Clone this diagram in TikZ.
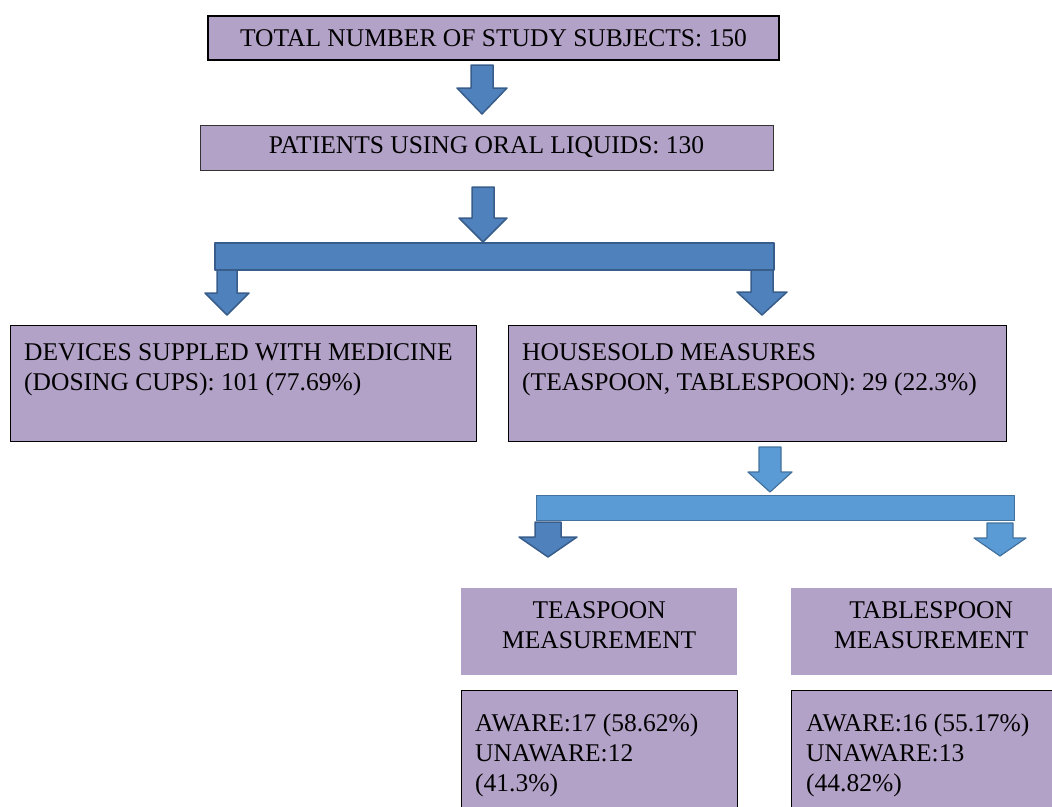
\documentclass[tikz,border=0pt]{standalone}
\usepackage{fontspec}
\setmainfont{Liberation Serif}
\definecolor{boxpurple}{HTML}{B3A2C7}
\definecolor{darkblue}{HTML}{4F81BD}
\definecolor{darkblueline}{HTML}{385D8A}
\definecolor{lightblue}{HTML}{5B9BD5}
\definecolor{lightblueline}{HTML}{41719C}
\tikzset{
  box/.style={fill=boxpurple, draw=black, line width=0.8pt},
  plainbox/.style={fill=boxpurple},
  darkarrow/.style={fill=darkblue, draw=darkblueline, line width=1.5pt, line join=round},
  lightarrow/.style={fill=lightblue, draw=lightblueline, line width=1.2pt, line join=round},
  pics/downarrow/.style n args={4}{code={
    \path[pic actions] (-#2,0) -- (#2,0) -- (#2,#1-#4) -- (#3,#1-#4) -- (0,#1)
      -- (-#3,#1-#4) -- (-#2,#1-#4) -- cycle;
  }}
}
\begin{document}
\begin{tikzpicture}[x=1pt,y=-1pt,
    every node/.style={font=\fontsize{25.5}{30}\selectfont, inner sep=0pt}]
  \useasboundingbox (0,0) rectangle (1052,806);
  \clip (0,0) rectangle (1052,806);

  % top of the chart
  \node[box, line width=2.5pt, minimum width=571pt, minimum height=44pt] (total)
    at (493.5,38) {TOTAL NUMBER OF STUDY SUBJECTS: 150};
  \pic[darkarrow] at (482,65) {downarrow={49}{11}{25}{26}};
  \node[box, draw=black!80, minimum width=573pt, minimum height=45pt] (oral)
    at (486.5,147.5) {PATIENTS USING ORAL LIQUIDS: 130};
  \pic[darkarrow] at (483,187) {downarrow={55}{11}{24}{24}};

  % first split
  \node[darkarrow, anchor=north west, minimum width=559pt, minimum height=27pt] (split)
    at (214,242) {};
  \pic[darkarrow] at (227,270) {downarrow={45}{10}{22}{22}};
  \pic[darkarrow] at (762,270) {downarrow={45}{11}{25}{23}};

  \node[box, anchor=north west, minimum width=466pt, minimum height=116pt] (devices)
    at (10,325) {};
  \node[anchor=north west, align=left] (devicestext) at (24,343)
    {DEVICES SUPPLED WITH MEDICINE\\(DOSING CUPS): 101 (77.69\%)};
  \node[box, anchor=north west, minimum width=498pt, minimum height=116pt] (house)
    at (508,325) {};
  \node[anchor=north west, align=left] (housetext) at (522,343)
    {HOUSESOLD MEASURES\\(TEASPOON, TABLESPOON): 29 (22.3\%)};

  % second split
  \pic[lightarrow] at (770,447) {downarrow={45}{11}{22}{20}};
  \node[lightarrow, anchor=north west, minimum width=478pt, minimum height=25pt] (spoons)
    at (536,495) {};
  \pic[darkarrow] at (548,522) {downarrow={35}{13}{29}{20}};
  \pic[lightarrow] at (1000,523) {downarrow={33}{13}{26}{18}};

  \node[plainbox, anchor=north west, minimum width=276pt, minimum height=87pt] (teaspoon)
    at (461,588) {};
  \node[align=center] (teaspoontext) at ([yshift=7pt]teaspoon.center)
    {TEASPOON\\MEASUREMENT};
  \node[plainbox, anchor=north west, minimum width=280pt, minimum height=87pt] (tablespoon)
    at (791,588) {};
  \node[align=center] (tablespoontext) at ([yshift=7pt]tablespoon.center)
    {TABLESPOON\\MEASUREMENT};

  \node[box, line width=1.2pt, anchor=north west, minimum width=276pt, minimum height=130pt] (teaaware)
    at (461,690) {};
  \node[anchor=north west, align=left] (teaawaretext) at (475,714)
    {AWARE:17 (58.62\%)\\UNAWARE:12\\(41.3\%)};
  \node[box, line width=1.2pt, anchor=north west, minimum width=280pt, minimum height=130pt] (tableaware)
    at (791,690) {};
  \node[anchor=north west, align=left] (tableawaretext) at (806,714)
    {AWARE:16 (55.17\%)\\UNAWARE:13\\(44.82\%)};
\end{tikzpicture}
\end{document}
